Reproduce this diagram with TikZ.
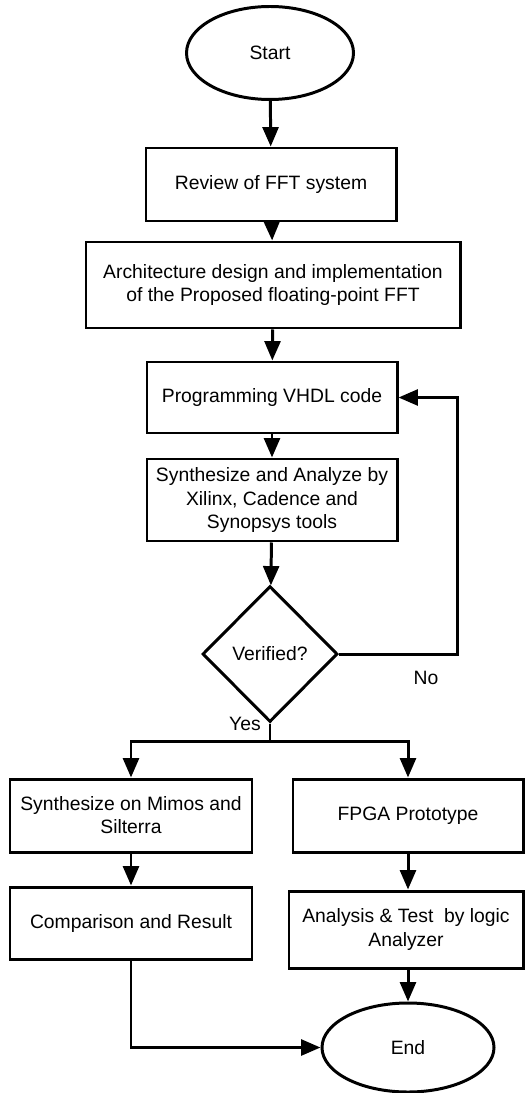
\documentclass[tikz,border=0pt]{standalone}
\usepackage{fontspec}
\setmainfont{Liberation Sans}
\usetikzlibrary{arrows.meta,shapes.geometric}

\begin{document}
\begin{tikzpicture}[line width=1.7pt, >={Triangle[length=11pt,width=9pt]},
  every node/.style={font=\fontsize{11}{13.1}\selectfont, align=center},
  proc/.style={rectangle, draw, inner sep=0pt},
  term/.style={ellipse, draw, inner sep=0pt},
  test/.style={diamond, draw, inner sep=0pt, aspect=1}]
\useasboundingbox (0,0) rectangle (10.54,-21.86);

\node (start) at (5.40,-1.06) [term, minimum width=3.34cm, minimum height=1.86cm] {Start};
\node (review) at (5.42,-3.69) [proc, minimum width=5cm, minimum height=1.46cm] {Review of FFT system};
\node (arch) at (5.46,-5.70) [proc, minimum width=7.48cm, minimum height=1.72cm] {Architecture design and implementation\\of the Proposed floating-point FFT};
\node (vhdl) at (5.44,-7.95) [proc, minimum width=5cm, minimum height=1.42cm] {Programming VHDL code};
\node (synth) at (5.44,-10.0) [proc, minimum width=5cm, minimum height=1.64cm] {Synthesize and Analyze by\\Xilinx, Cadence and\\Synopsys tools};
\node (verif) at (5.40,-13.08) [test, minimum width=2.7cm, minimum height=2.72cm] {Verified?};
\node (mimos) at (2.62,-16.31) [proc, minimum width=4.84cm, minimum height=1.46cm] {Synthesize on Mimos and\\Silterra};
\node (comp) at (2.62,-18.46) [proc, minimum width=4.84cm, minimum height=1.44cm] {Comparison and Result};
\node (fpga) at (8.16,-16.31) [proc, minimum width=4.6cm, minimum height=1.46cm] {FPGA Prototype};
\node (logic) at (8.12,-18.59) [proc, minimum width=4.68cm, minimum height=1.54cm] {Analysis \& Test\ \ by logic\\Analyzer};
\node (fin) at (8.16,-20.95) [term, minimum width=3.44cm, minimum height=1.78cm] {End};

\node (no) at (8.52,-13.56) {No};
\node (yes) at (4.90,-14.48) {Yes};

\coordinate (split) at (5.40,-14.82);
\coordinate (loop) at (9.14,-13.08);

\draw[->] (start) -- (review);
\draw[->] (review) -- (arch);
\draw[->] (arch) -- (vhdl);
\draw[->] (vhdl) -- (synth);
\draw[->] (synth) -- (verif);

\draw[->] (verif.east) -- (loop) |- (vhdl.east);

\draw (verif.south) -- (split);
\draw[->] (split) -| (mimos.north);
\draw[->] (split) -| (fpga.north);

\draw[->] (mimos) -- (comp);
\draw[->] (fpga) -- (fpga |- logic.north);
\draw[->] (fin |- logic.south) -- (fin);
\draw[->] (comp.south) |- (fin.west);
\end{tikzpicture}
\end{document}
